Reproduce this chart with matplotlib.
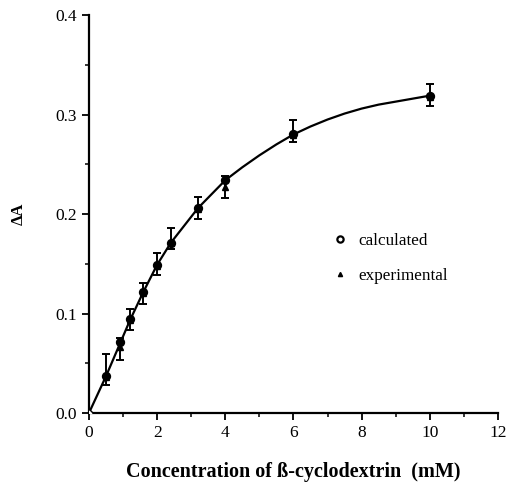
import matplotlib
matplotlib.use('Agg')
import matplotlib.pyplot as plt
from matplotlib.ticker import MultipleLocator

plt.rcParams['font.family'] = ['Liberation Serif', 'DejaVu Serif']

# concentration of beta-cyclodextrin (mM)
conc = [0.5, 0.9, 1.2, 1.6, 2.0, 2.4, 3.2, 4.0, 6.0, 10.0]
# calculated absorbance change at each concentration
calc_vals = [0.037, 0.071, 0.094, 0.122, 0.149, 0.171, 0.206, 0.234, 0.280, 0.319]
# experimental absorbance change, with bottom / top of error bars
exp_vals = [0.036, 0.066, 0.093, 0.121, 0.148, 0.171, 0.205, 0.227, 0.279, 0.318]
err_bottom = [0.028, 0.053, 0.083, 0.110, 0.139, 0.165, 0.195, 0.216, 0.272, 0.309]
err_top = [0.059, 0.075, 0.105, 0.131, 0.161, 0.186, 0.217, 0.238, 0.295, 0.331]

# fitted curve
curve_x = [0.0, 0.5, 0.9, 1.2, 1.6, 2.0, 2.4, 3.2, 4.0, 4.5, 5.0, 5.5, 6.0,
           6.5, 7.0, 7.5, 8.0, 8.5, 9.0, 9.5, 10.0]
curve_y = [0.0, 0.037, 0.069, 0.093, 0.122, 0.149, 0.171, 0.206, 0.234, 0.247,
           0.259, 0.270, 0.280, 0.288, 0.295, 0.301, 0.306, 0.310, 0.313,
           0.316, 0.319]

x_ticks = [0, 2, 4, 6, 8, 10, 12]
y_ticks = [0.0, 0.1, 0.2, 0.3, 0.4]

fig = plt.figure(figsize=(5.07, 4.87), dpi=100)
ax = fig.add_axes([0.1755, 0.152, 0.8065, 0.817])

ax.plot(curve_x, curve_y, color='black', lw=1.6, zorder=2)
ax.plot([curve_x[0]], [curve_y[0]], marker='D', ms=4, mfc='white', mec='black',
        mew=1.0, ls='none', zorder=4)

lo = [v - b for v, b in zip(exp_vals, err_bottom)]
hi = [t - v for v, t in zip(exp_vals, err_top)]
ax.errorbar(conc, exp_vals, yerr=[lo, hi], fmt='none', ecolor='black',
            elinewidth=1.4, capsize=3, capthick=1.4, zorder=3)

ax.plot(conc, calc_vals, 'o', ms=5.5, mfc='black', mec='black',
        mew=1.2, zorder=5)
ax.plot(conc, exp_vals, '^', ms=4.5, color='black', zorder=6)

# legend handles shown like the original: open circle, small triangle
h_calc, = ax.plot([], [], 'o', ms=4.5, mfc='white', mec='black', mew=1.6)
h_exp, = ax.plot([], [], '^', ms=3, color='black')
ax.legend([h_calc, h_exp], ['calculated', 'experimental'], loc='upper left',
          bbox_to_anchor=(0.555, 0.49), frameon=False, fontsize=12.3,
          labelspacing=1.1, handlelength=1.0, handletextpad=0.6, numpoints=1)

ax.set_xlim(0, 12)
ax.set_ylim(0, 0.4)
ax.set_xticks(x_ticks)
ax.set_yticks(y_ticks)
ax.set_xticklabels([str(t) for t in x_ticks])
ax.set_yticklabels([f'{t:.1f}' for t in y_ticks])
ax.xaxis.set_minor_locator(MultipleLocator(1))
ax.yaxis.set_minor_locator(MultipleLocator(0.05))
ax.tick_params(which='major', direction='out', length=5, width=1.3, labelsize=12.5)
ax.tick_params(which='minor', direction='out', length=3, width=1.1)

for side in ['top', 'right']:
    ax.spines[side].set_visible(False)
for side in ['left', 'bottom']:
    ax.spines[side].set_linewidth(1.6)

ax.set_xlabel('Concentration of ß-cyclodextrin  (mM)', fontsize=14.5,
              fontweight='bold', labelpad=15)
ax.set_ylabel('ΔA', fontsize=12, fontweight='bold', labelpad=21)

fig.savefig('out.png', dpi=100)
